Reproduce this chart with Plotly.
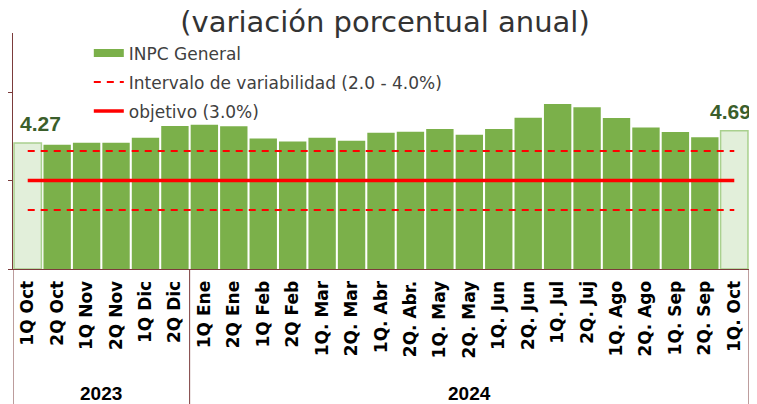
import plotly.graph_objects as go

# quincenas (Oct 2023 - Oct 2024)
categories = ["1Q Oct", "2Q Oct", "1Q Nov", "2Q Nov", "1Q Dic", "2Q Dic",
              "1Q Ene", "2Q Ene", "1Q Feb", "2Q Feb", "1Q. Mar", "2Q. Mar",
              "1Q. Abr", "2Q. Abr.", "1Q. May", "2Q. May", "1Q. Jun", "2Q. Jun",
              "1Q. Jul", "2Q. Juj", "1Q. Ago", "2Q. Ago", "1Q. Sep", "2Q. Sep",
              "1Q. Oct"]
inpc = [4.27, 4.21, 4.28, 4.28, 4.45, 4.85, 4.89, 4.84, 4.42, 4.32, 4.45, 4.35,
        4.62, 4.65, 4.75, 4.55, 4.75, 5.13, 5.59, 5.48, 5.12, 4.80, 4.64, 4.47,
        4.69]
years = ["2023", "2024"]
year_counts = [6, 19]
objetivo = 3.0
intervalo = [2.0, 4.0]

GREEN = "#7BB04A"
LIGHT = "#E2EFDA"
AXIS = "#7B3B3B"

# the page body keeps its default 8px margin, so the figure is 8px smaller
W, H, OFF = 749, 396, 8

n = len(categories)
colors = [LIGHT if i in (0, n - 1) else GREEN for i in range(n)]
line_w = [1.5 if i in (0, n - 1) else 0 for i in range(n)]

fig = go.Figure()

fig.add_trace(go.Bar(
    x=categories, y=inpc, marker=dict(color=colors, line=dict(color="#A9D08E", width=line_w)),
    showlegend=False, hoverinfo="skip"))

# legend proxy for the bars (flat swatch)
fig.add_trace(go.Scatter(x=[None], y=[None], mode="lines", name="INPC General",
                         line=dict(color=GREEN, width=8), legendgroup="a"))

for k, v in enumerate(intervalo):
    fig.add_trace(go.Scatter(
        x=[categories[0], categories[-1]], y=[v, v], mode="lines",
        line=dict(color="#FF0000", width=2, dash="7px,6px"),
        name="Intervalo de variabilidad (2.0 - 4.0%)", legendgroup="b",
        showlegend=(k == 0), hoverinfo="skip"))

fig.add_trace(go.Scatter(
    x=[categories[0], categories[-1]], y=[objetivo, objetivo], mode="lines",
    line=dict(color="#FF0000", width=3.5), name="objetivo (3.0%)",
    legendgroup="c", hoverinfo="skip"))

# labels on first and last bar
for i, shift in ((0, 13), (n - 1, -4)):
    fig.add_annotation(x=categories[i], y=inpc[i], text=f"<b>{inpc[i]:.2f}</b>",
                       showarrow=False, yanchor="bottom", yshift=6, xshift=shift,
                       font=dict(family="Liberation Sans", size=21, color="#3B5E2B"))

# red side labels (clipped at the left edge)
for txt, yv, xp in (("4", 4.25, -0.0136), ("2", 2.2, -0.0054)):
    fig.add_annotation(x=xp, xref="paper", y=yv, yref="y", text=f"<b>{txt}</b>",
                       showarrow=False, xanchor="right",
                       font=dict(family="Liberation Sans", size=22, color="#FF0000"))

# year groups: dividers and labels
start = -0.5
bottom = -135 / 236
for yr, cnt in zip(years, year_counts):
    fig.add_shape(type="line", xref="x", yref="paper", x0=start, x1=start,
                  y0=0, y1=bottom, line=dict(color=AXIS, width=1))
    fig.add_annotation(x=start + cnt / 2, xref="x", y=-(393 - 269) / 236, yref="paper",
                       yanchor="middle", text=f"<b>{yr}</b>", showarrow=False,
                       font=dict(family="Liberation Sans", size=19, color="black"))
    start += cnt
fig.add_shape(type="line", xref="x", yref="paper", x0=start, x1=start,
              y0=0, y1=bottom, line=dict(color=AXIS, width=1))

fig.update_layout(
    width=W, height=H,
    margin=dict(l=13 - OFF, r=8, t=33 - OFF, b=135),
    plot_bgcolor="white", paper_bgcolor="white",
    bargap=0.07,
    title=dict(text="(variación porcentual anual)", x=(385 - OFF) / W, xanchor="center",
               y=1 - (22 - OFF) / H, yanchor="middle", automargin=False,
               font=dict(family="DejaVu Sans", size=29, color="#333333")),
    legend=dict(x=0.103, y=0.99, xanchor="left", yanchor="top",
                bgcolor="rgba(0,0,0,0)", traceorder="grouped", tracegroupgap=4,
                font=dict(family="DejaVu Sans", size=17, color="#404040")),
    xaxis=dict(type="category", tickangle=-90, showline=True, linecolor=AXIS,
               linewidth=1, ticks="", showgrid=False, automargin=False,
               ticklabelstandoff=4,
               tickfont=dict(family="DejaVu Sans", size=17, color="black", weight="bold"),
               range=[-0.5, n - 0.5]),
    yaxis=dict(range=[0, 8], showline=True, linecolor=AXIS, linewidth=1,
               ticks="outside", ticklen=5, tickcolor=AXIS, tickvals=[0, 3, 6],
               showticklabels=False, showgrid=False, zeroline=False, automargin=False),
)

fig.write_html("out.html")
